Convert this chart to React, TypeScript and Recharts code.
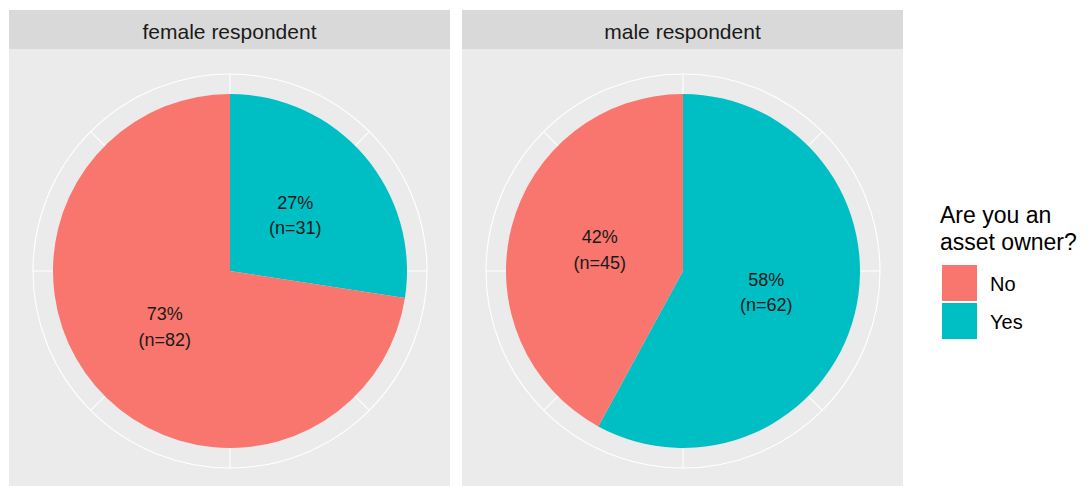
import React from 'react';
import { PieChart, Pie, Cell, PolarGrid } from 'recharts';

const facets = ['female respondent', 'male respondent'];
const answers = ['Yes', 'No'];
const femaleCounts = [31, 82];
const maleCounts = [62, 45];
const legendAnswers = ['No', 'Yes'];
const answerColors: Record<string, string> = { No: '#F8766D', Yes: '#00BFC4' };
const gridAngles = [90, 45, 0, -45, -90, -135, 180, 135];

const FONT = '"Liberation Sans", Arial, sans-serif';
const PANEL_W = 441;
const PANEL_H = 437;
const CX = 221;
const CY = 222;
const PIE_R = 177;
const GRID_R = 197;
const RADIAN = Math.PI / 180;

const renderLabel = (props: any) => {
  const { cx, cy, midAngle, percent, value } = props;
  const r = 86;
  const x = cx + r * Math.cos(-midAngle * RADIAN);
  const y = cy + r * Math.sin(-midAngle * RADIAN);
  return (
    <g>
      <text x={x} y={y - 12.5} textAnchor="middle" dominantBaseline="central" fontSize={18} fill="#1a1a1a" fontFamily={FONT}>
        {`${Math.round(percent * 100)}%`}
      </text>
      <text x={x} y={y + 13} textAnchor="middle" dominantBaseline="central" fontSize={18} fill="#1a1a1a" fontFamily={FONT}>
        {`(n=${value})`}
      </text>
    </g>
  );
};

const FacetPie: React.FC<{ title: string; counts: number[]; left: number }> = ({ title, counts, left }) => {
  const data = answers.map((a, i) => ({ answer: a, n: counts[i] }));
  return (
    <div style={{ position: 'absolute', left, top: 10, width: PANEL_W }}>
      <div style={{ height: 39, boxSizing: 'border-box', paddingTop: 2, background: '#D9D9D9', color: '#1A1A1A', fontSize: 21, lineHeight: '39px', textAlign: 'center' }}>
        {title}
      </div>
      <div style={{ background: '#EBEBEB', width: PANEL_W, height: PANEL_H }}>
        <PieChart width={PANEL_W} height={PANEL_H} cx={CX} cy={CY} innerRadius={0} outerRadius={GRID_R} margin={{ top: 0, right: 0, bottom: 0, left: 0 }}>
          <PolarGrid
            gridType="circle"
            cx={CX}
            cy={CY}
            innerRadius={0}
            outerRadius={GRID_R}
            polarAngles={gridAngles}
            polarRadius={[GRID_R]}
            stroke="#FFFFFF"
            strokeWidth={1.1}
          />
          <Pie
            data={data}
            dataKey="n"
            nameKey="answer"
            cx={CX}
            cy={CY}
            outerRadius={PIE_R}
            startAngle={90}
            endAngle={-270}
            stroke="none"
            label={renderLabel}
            labelLine={false}
            isAnimationActive={false}
          >
            {data.map((d) => (
              <Cell key={d.answer} fill={answerColors[d.answer]} />
            ))}
          </Pie>
        </PieChart>
      </div>
    </div>
  );
};

export default function App() {
  return (
    <div style={{ position: 'relative', width: 1091, height: 486, background: '#FFFFFF', fontFamily: FONT, overflow: 'hidden' }}>
      <style>{'body{margin:0}'}</style>
      <FacetPie title={facets[0]} counts={femaleCounts} left={9} />
      <FacetPie title={facets[1]} counts={maleCounts} left={462} />
      <div style={{ position: 'absolute', left: 940, top: 202, color: '#000' }}>
        <div style={{ fontSize: 23, lineHeight: '27px' }}>
          Are you an
          <br />
          asset owner?
        </div>
        <div style={{ marginTop: 8 }}>
          {legendAnswers.map((a) => (
            <div key={a} style={{ display: 'flex', alignItems: 'center', height: 38 }}>
              <div style={{ width: 35, height: 36, background: answerColors[a], marginLeft: 2 }} />
              <span style={{ fontSize: 20, marginLeft: 13, paddingTop: 2 }}>{a}</span>
            </div>
          ))}
        </div>
      </div>
    </div>
  );
}
